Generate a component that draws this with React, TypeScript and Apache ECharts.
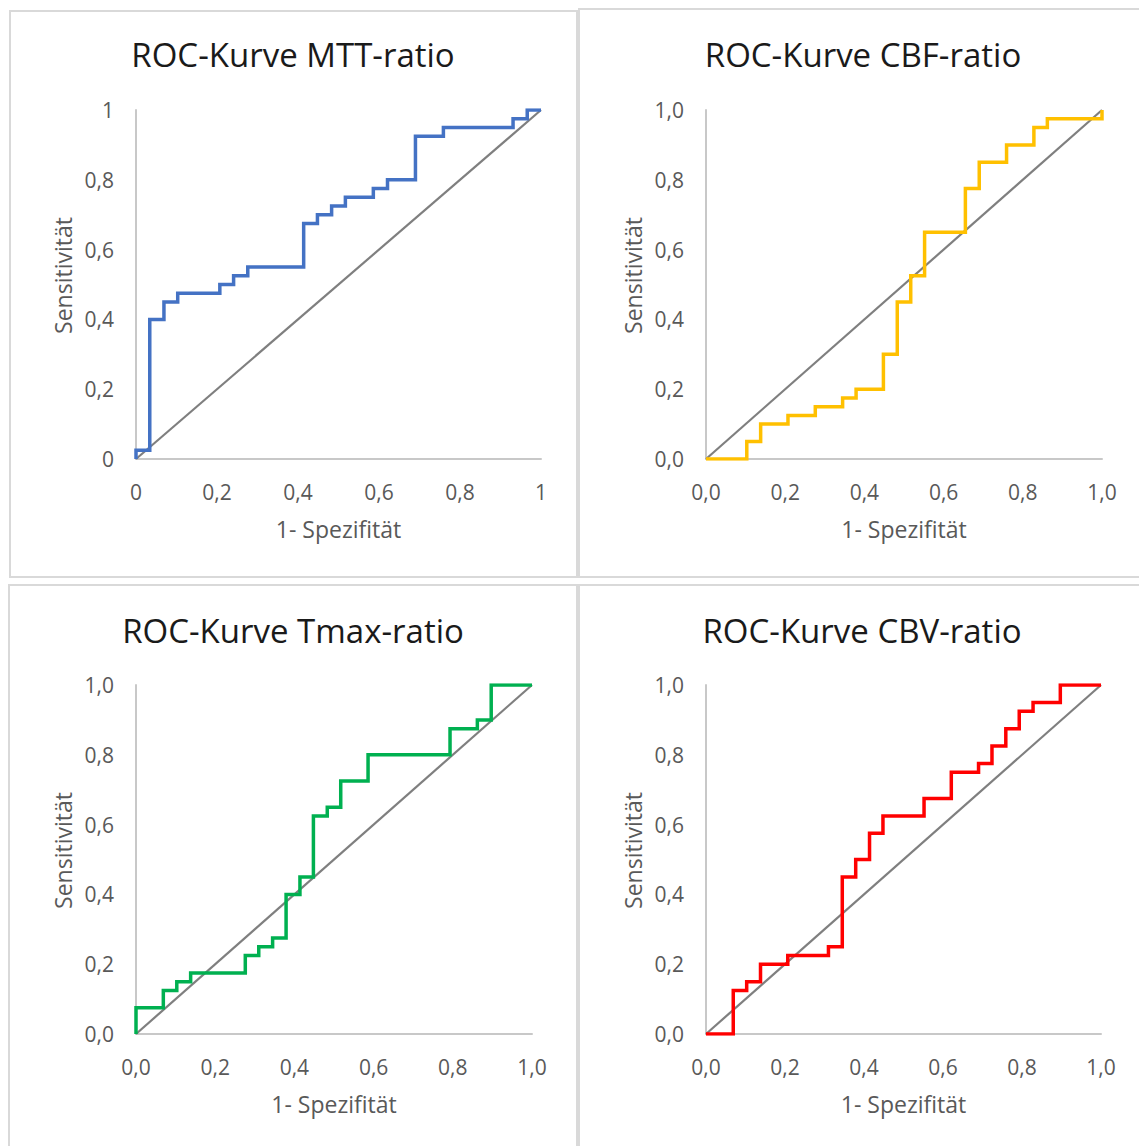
import React, { useEffect, useRef } from "react";
import * as echarts from "echarts";

const titles = ["ROC-Kurve MTT-ratio", "ROC-Kurve CBF-ratio", "ROC-Kurve Tmax-ratio", "ROC-Kurve CBV-ratio"];
const xAxisTitle = "1- Spezifität";
const yAxisTitle = "Sensitivität";
const tickValues = [0, 0.2, 0.4, 0.6, 0.8, 1];
const colors = ["#4472C4", "#FFC000", "#00B050", "#FF0000"];

// ROC step vertices (1 - specificity, sensitivity)
const mttX = [0, 0, 0.034, 0.034, 0.069, 0.069, 0.103, 0.103, 0.207, 0.207, 0.241, 0.241, 0.276, 0.276, 0.414, 0.414, 0.448, 0.448, 0.483, 0.483, 0.517, 0.517, 0.586, 0.586, 0.621, 0.621, 0.69, 0.69, 0.759, 0.759, 0.931, 0.931, 0.966, 0.966, 1];
const mttY = [0, 0.025, 0.025, 0.4, 0.4, 0.45, 0.45, 0.475, 0.475, 0.5, 0.5, 0.525, 0.525, 0.55, 0.55, 0.675, 0.675, 0.7, 0.7, 0.725, 0.725, 0.75, 0.75, 0.775, 0.775, 0.8, 0.8, 0.925, 0.925, 0.95, 0.95, 0.975, 0.975, 1, 1];

const cbfX = [0, 0.103, 0.103, 0.138, 0.138, 0.207, 0.207, 0.276, 0.276, 0.345, 0.345, 0.379, 0.379, 0.448, 0.448, 0.483, 0.483, 0.517, 0.517, 0.552, 0.552, 0.655, 0.655, 0.69, 0.69, 0.759, 0.759, 0.828, 0.828, 0.862, 0.862, 1, 1];
const cbfY = [0, 0, 0.05, 0.05, 0.1, 0.1, 0.125, 0.125, 0.15, 0.15, 0.175, 0.175, 0.2, 0.2, 0.3, 0.3, 0.45, 0.45, 0.525, 0.525, 0.65, 0.65, 0.775, 0.775, 0.85, 0.85, 0.9, 0.9, 0.95, 0.95, 0.975, 0.975, 1];

const tmaxX = [0, 0, 0.069, 0.069, 0.103, 0.103, 0.138, 0.138, 0.276, 0.276, 0.31, 0.31, 0.345, 0.345, 0.379, 0.379, 0.414, 0.414, 0.448, 0.448, 0.483, 0.483, 0.517, 0.517, 0.586, 0.586, 0.793, 0.793, 0.862, 0.862, 0.897, 0.897, 1];
const tmaxY = [0, 0.075, 0.075, 0.125, 0.125, 0.15, 0.15, 0.175, 0.175, 0.225, 0.225, 0.25, 0.25, 0.275, 0.275, 0.4, 0.4, 0.45, 0.45, 0.625, 0.625, 0.65, 0.65, 0.725, 0.725, 0.8, 0.8, 0.875, 0.875, 0.9, 0.9, 1, 1];

const cbvX = [0, 0.069, 0.069, 0.103, 0.103, 0.138, 0.138, 0.207, 0.207, 0.31, 0.31, 0.345, 0.345, 0.379, 0.379, 0.414, 0.414, 0.448, 0.448, 0.552, 0.552, 0.621, 0.621, 0.69, 0.69, 0.724, 0.724, 0.759, 0.759, 0.793, 0.793, 0.828, 0.828, 0.897, 0.897, 1];
const cbvY = [0, 0, 0.125, 0.125, 0.15, 0.15, 0.2, 0.2, 0.225, 0.225, 0.25, 0.25, 0.45, 0.45, 0.5, 0.5, 0.575, 0.575, 0.625, 0.625, 0.675, 0.675, 0.75, 0.75, 0.775, 0.775, 0.825, 0.825, 0.875, 0.875, 0.925, 0.925, 0.95, 0.95, 1, 1];

const diagX = [0, 1];
const diagY = [0, 1];

const curves = [
  [mttX, mttY],
  [cbfX, cbfY],
  [tmaxX, tmaxY],
  [cbvX, cbvY],
];

const FONT = "'Open Sans', sans-serif";

export default function App() {
  const ref = useRef<HTMLDivElement>(null);
  useEffect(() => {
    document.body.style.margin = "0";
    const chart = echarts.init(ref.current!, null, { renderer: "svg" });
    const grids = [
      { left: 136, top: 110, width: 405, height: 349 },
      { left: 706, top: 110, width: 396, height: 349 },
      { left: 136, top: 685, width: 396, height: 349 },
      { left: 706, top: 685, width: 395, height: 349 },
    ];
    const titleCenters = [
      [288, 33],
      [858, 33],
      [288, 609],
      [857, 609],
    ];
    const fmt = (short: boolean) => (v: number) => {
      if (short && (v === 0 || v === 1)) return String(v);
      return v.toFixed(1).replace(".", ",");
    };
    const axisCommon = {
      type: "value" as const,
      min: 0,
      max: 1,
      interval: 0.2,
      splitLine: { show: false },
      axisTick: { show: false },
      axisLine: { show: true, lineStyle: { color: "#c8c8c8", width: 2 } },
      nameLocation: "middle" as const,
      nameTextStyle: { color: "#595959", fontSize: 23, fontFamily: FONT },
    };
    const xAxes = grids.map((_, i) => ({
      ...axisCommon,
      gridIndex: i,
      name: xAxisTitle,
      nameGap: 58,
      axisLabel: { color: "#595959", fontSize: 21, fontFamily: FONT, margin: 22, formatter: fmt(i === 0) },
    }));
    const yAxes = grids.map((_, i) => ({
      ...axisCommon,
      gridIndex: i,
      name: yAxisTitle,
      nameGap: 62,
      nameTextStyle: { ...axisCommon.nameTextStyle, padding: [0, 0, 0, 18] },
      axisLabel: { color: "#595959", fontSize: 21, fontFamily: FONT, margin: 22, formatter: fmt(i === 0) },
    }));
    const series: any[] = [];
    curves.forEach(([xs, ys], i) => {
      series.push({
        type: "line",
        xAxisIndex: i,
        yAxisIndex: i,
        data: diagX.map((x, k) => [x, diagY[k]]),
        symbol: "none",
        lineStyle: { color: "#7f7f7f", width: 2.2 },
        silent: true,
        z: 2,
      });
      series.push({
        type: "line",
        xAxisIndex: i,
        yAxisIndex: i,
        data: xs.map((x, k) => [x, ys[k]]),
        symbol: "none",
        lineStyle: { color: colors[i], width: 3.5, join: "miter" },
        silent: true,
        z: 3,
      });
    });
    const border = { fill: "none", stroke: "#d9d9d9", lineWidth: 2 };
    chart.setOption({
      animation: false,
      backgroundColor: "#ffffff",
      title: titles.map((t, i) => ({
        text: t,
        left: titleCenters[i][0],
        top: titleCenters[i][1],
        textAlign: "center",
        textStyle: { color: "#1a1a1a", fontSize: 33, fontWeight: "normal", fontFamily: FONT },
      })),
      grid: grids,
      xAxis: xAxes,
      yAxis: yAxes,
      series,
      graphic: [
        { type: "rect", shape: { x: 10, y: 11, width: 567, height: 566 }, style: border, silent: true },
        { type: "rect", shape: { x: 579, y: 9, width: 580, height: 568 }, style: border, silent: true },
        { type: "rect", shape: { x: 9, y: 585, width: 568, height: 580 }, style: border, silent: true },
        { type: "rect", shape: { x: 579, y: 585, width: 580, height: 580 }, style: border, silent: true },
      ],
    });
    return () => chart.dispose();
  }, []);
  return <div ref={ref} style={{ position: "absolute", left: 0, top: 0, width: 1139, height: 1146 }} />;
}
